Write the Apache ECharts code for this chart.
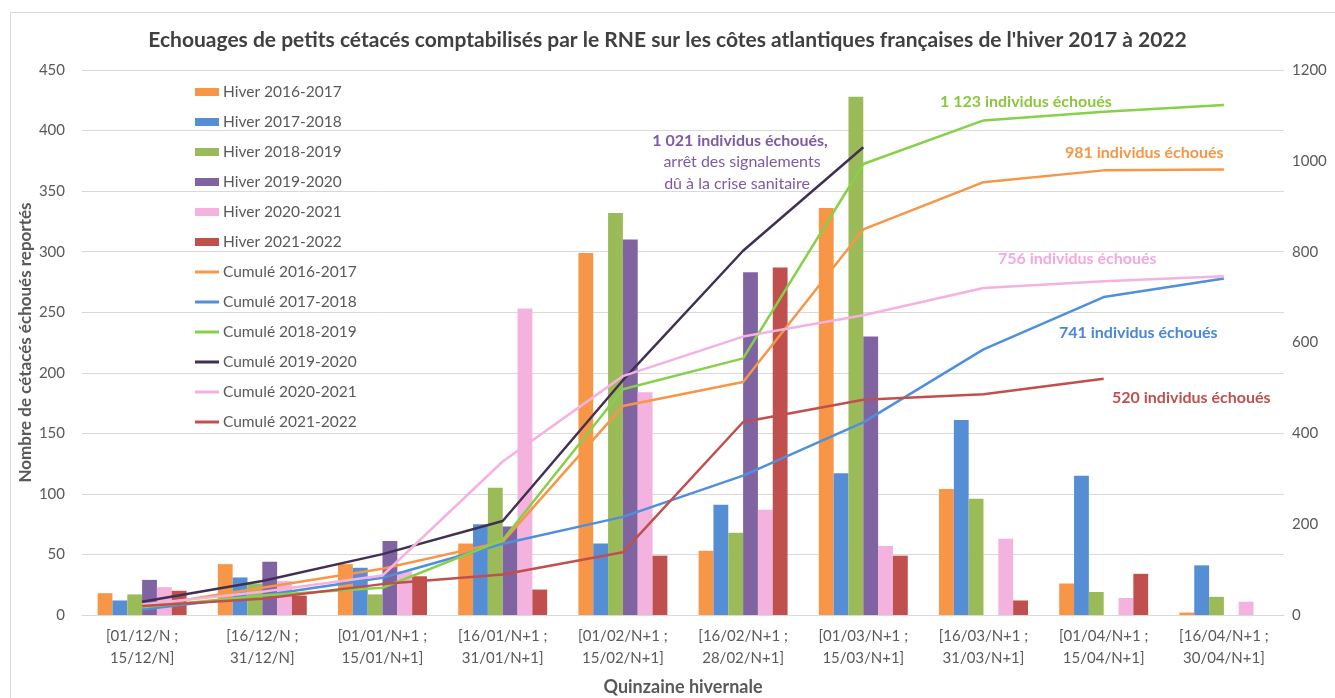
<!DOCTYPE html>
<html>
<head>
<meta charset="utf-8">
<script src="https://cdn.jsdelivr.net/npm/echarts@6/dist/echarts.min.js"></script>
<style>
  html, body { margin: 0; padding: 0; background: #fff; }
  #chart { width: 1335px; height: 698px; }
</style>
</head>
<body>
<div id="chart"></div>
<script>
// quinzaines
var categories = [
    '[01/12/N ;\n15/12/N]', '[16/12/N ;\n31/12/N]', '[01/01/N+1 ;\n15/01/N+1]',
    '[16/01/N+1 ;\n31/01/N+1]', '[01/02/N+1 ;\n15/02/N+1]', '[16/02/N+1 ;\n28/02/N+1]',
    '[01/03/N+1 ;\n15/03/N+1]', '[16/03/N+1 ;\n31/03/N+1]', '[01/04/N+1 ;\n15/04/N+1]',
    '[16/04/N+1 ;\n30/04/N+1]'
];

// echouages par quinzaine
var hiver1617 = [18, 42, 42, 59, 299, 53, 336, 104, 26, 2];
var hiver1718 = [12, 31, 39, 75, 59, 91, 117, 161, 115, 41];
var hiver1819 = [17, 26, 17, 105, 332, 68, 428, 96, 19, 15];
var hiver1920 = [29, 44, 61, 73, 310, 283, 230, null, null, null];
var hiver2021 = [23, 28, 36, 253, 184, 87, 57, 63, 14, 11];
var hiver2122 = [20, 16, 32, 21, 49, 287, 49, 12, 34, null];

// cumuls (axe de droite)
var cumul1617 = [18, 60, 102, 161, 460, 513, 849, 953, 979, 981];
var cumul1718 = [12, 43, 82, 157, 216, 307, 424, 585, 700, 741];
var cumul1819 = [17, 43, 60, 165, 497, 565, 993, 1089, 1108, 1123];
var cumul1920 = [29, 75, 134, 207, 517, 802, 1030, null, null, null];
var cumul2021 = [23, 51, 87, 338, 526, 613, 660, 720, 735, 746];
var cumul2122 = [20, 36, 68, 89, 138, 425, 474, 486, 520, null];

var leftTicks = { min: 0, max: 450, interval: 50 };
var rightTicks = { min: 0, max: 1200, interval: 200 };

var FONT = 'Lato';
var GREY = '#595959';
var LINE_ICON = 'path://M0,0 H24 V3 H0 Z';

var barSeries = [
    { name: 'Hiver 2016-2017', data: hiver1617, color: '#F79646' },
    { name: 'Hiver 2017-2018', data: hiver1718, color: '#558ED5' },
    { name: 'Hiver 2018-2019', data: hiver1819, color: '#9BBB59' },
    { name: 'Hiver 2019-2020', data: hiver1920, color: '#8064A2' },
    { name: 'Hiver 2020-2021', data: hiver2021, color: '#F3B3DE' },
    { name: 'Hiver 2021-2022', data: hiver2122, color: '#C0504D' }
];
var lineSeries = [
    { name: 'Cumulé 2016-2017', data: cumul1617, color: '#F79646' },
    { name: 'Cumulé 2017-2018', data: cumul1718, color: '#4F8FDB' },
    { name: 'Cumulé 2018-2019', data: cumul1819, color: '#86D04A' },
    { name: 'Cumulé 2019-2020', data: cumul1920, color: '#403152' },
    { name: 'Cumulé 2020-2021', data: cumul2021, color: '#F5B1E0' },
    { name: 'Cumulé 2021-2022', data: cumul2122, color: '#C0504D' }
];

var series = [];
barSeries.forEach(function (s) {
    series.push({
        name: s.name, type: 'bar', yAxisIndex: 0, data: s.data,
        barGap: '0%', barCategoryGap: '26%',
        itemStyle: { color: s.color },
        z: 2
    });
});
lineSeries.forEach(function (s) {
    series.push({
        name: s.name, type: 'line', yAxisIndex: 1, data: s.data,
        symbol: 'none', connectNulls: false,
        lineStyle: { color: s.color, width: 2.5 },
        itemStyle: { color: s.color },
        z: 3
    });
});

var legendData = barSeries.map(function (s) {
    return { name: s.name, icon: 'rect' };
}).concat(lineSeries.map(function (s) {
    return { name: s.name, icon: LINE_ICON };
}));

function note(text, x, y, color, bold, align) {
    return {
        type: 'text', x: x, y: y,
        style: {
            text: text, fill: color, font: (bold ? 'bold ' : '') + '16px ' + FONT,
            textAlign: align || 'left', textVerticalAlign: 'middle'
        },
        z: 10
    };
}

var chart = echarts.init(document.getElementById('chart'));
chart.setOption({
    animation: false,
    backgroundColor: '#fff',
    textStyle: { fontFamily: FONT },
    title: {
        text: "Echouages de petits cétacés comptabilisés par le RNE sur les côtes atlantiques françaises de l'hiver 2017 à 2022",
        left: 'center', top: 25,
        textStyle: { fontFamily: FONT, fontSize: 21, fontWeight: 'bold', color: '#404040' }
    },
    legend: {
        orient: 'vertical', left: 190, top: 78,
        itemWidth: 24, itemHeight: 8, itemGap: 12,
        symbolKeepAspect: true,
        textStyle: { fontFamily: FONT, fontSize: 15.5, color: GREY, lineHeight: 18, padding: [0, 0, 0, -1] },
        data: legendData
    },
    grid: { left: 82, right: 51, top: 70, bottom: 83, containLabel: false, outerBoundsMode: 'none' },
    xAxis: {
        type: 'category', data: categories,
        name: 'Quinzaine hivernale', nameLocation: 'middle', nameGap: 63,
        nameTextStyle: { fontFamily: FONT, fontSize: 18, fontWeight: 'bold', color: GREY },
        axisLine: { lineStyle: { color: '#d9d9d9', width: 1 } },
        axisTick: { show: false },
        axisLabel: { fontFamily: FONT, fontSize: 15, color: GREY, lineHeight: 22, margin: 10, interval: 0 }
    },
    yAxis: [{
        type: 'value', min: leftTicks.min, max: leftTicks.max, interval: leftTicks.interval,
        name: 'Nombre de cétacés échoués reportés', nameLocation: 'middle', nameGap: 48,
        nameMoveOverlap: false,
        nameTextStyle: { fontFamily: FONT, fontSize: 17, fontWeight: 'bold', color: GREY },
        axisLine: { show: false }, axisTick: { show: false },
        axisLabel: { fontFamily: FONT, fontSize: 15, color: GREY, margin: 17 },
        splitLine: { lineStyle: { color: '#d9d9d9', width: 1 } }
    }, {
        type: 'value', min: rightTicks.min, max: rightTicks.max, interval: rightTicks.interval,
        position: 'right',
        axisLine: { show: false }, axisTick: { show: false },
        axisLabel: {
            fontFamily: FONT, fontSize: 15, color: GREY, margin: 8,
            formatter: function (v) { return String(v); }
        },
        splitLine: { show: false }
    }],
    graphic: [
        {
            type: 'rect', silent: true,
            shape: { x: 10.5, y: 12.5, width: 1340, height: 700 },
            style: { fill: 'none', stroke: '#d9d9d9', lineWidth: 1 }, z: -1
        },
        note('1 123 individus échoués', 940, 102, '#8CC63F', true),
        note('981 individus échoués', 1065, 153, '#F79646', true),
        note('756 individus échoués', 998, 259, '#F5A8DC', true),
        note('741 individus échoués', 1059, 333, '#4A86D6', true),
        note('520 individus échoués', 1112, 398, '#C0504D', true),
        note('1 021 individus échoués,', 740, 141, '#7E5AA4', true, 'center'),
        note('arrêt des signalements', 742, 162, '#7E5AA4', false, 'center'),
        note('dû à la crise sanitaire', 737, 184, '#7E5AA4', false, 'center')
    ],
    series: series
});
</script>
</body>
</html>
